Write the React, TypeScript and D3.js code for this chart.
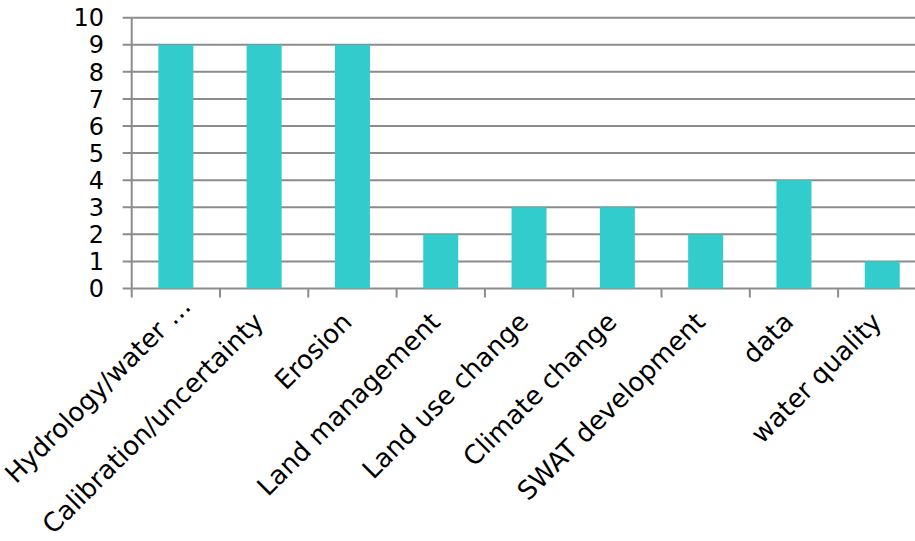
import React from "react";
import * as d3 from "d3";

const categories = [
  "Hydrology/water …",
  "Calibration/uncertainty",
  "Erosion",
  "Land management",
  "Land use change",
  "Climate change",
  "SWAT development",
  "data",
  "water quality",
];
const values = [9, 9, 9, 2, 3, 3, 2, 4, 1];
const yTicks = [0, 1, 2, 3, 4, 5, 6, 7, 8, 9, 10];

const W = 915;
const H = 541;
const left = 131.7;
const band = 88.3;
const y0 = 288.5;
const y10 = 17.7;
const font = "'DejaVu Sans', Verdana, sans-serif";
const grid = "#8c8c8c";

export default function App() {
  const x = d3
    .scaleBand<string>()
    .domain(categories)
    .range([left, left + band * categories.length])
    .paddingInner(0)
    .paddingOuter(0);
  const y = d3.scaleLinear().domain([0, 10]).range([y0, y10]);
  const bw = 35;

  return (
    <svg
      width={W}
      height={H}
      style={{ position: "absolute", left: 0, top: 0, background: "#fff" }}
    >
      {yTicks.map((t) => (
        <g key={t}>
          <line
            x1={left - 9}
            x2={W}
            y1={y(t)}
            y2={y(t)}
            stroke={grid}
            strokeWidth={2}
          />
          <text
            x={104}
            y={y(t)}
            dy="0.36em"
            textAnchor="end"
            fontFamily={font}
            fontSize={24}
            fill="#000"
          >
            {t}
          </text>
        </g>
      ))}
      <line x1={left} x2={left} y1={y10} y2={y0 + 9} stroke={grid} strokeWidth={2} />
      {categories.map((c, i) => (
        <line
          key={"t" + i}
          x1={(x(c) as number) + band}
          x2={(x(c) as number) + band}
          y1={y0}
          y2={y0 + 9}
          stroke={grid}
          strokeWidth={2}
        />
      ))}
      {categories.map((c, i) => {
        const cx = (x(c) as number) + x.bandwidth() / 2;
        return (
          <rect
            key={"b" + i}
            x={cx - bw / 2}
            y={y(values[i])}
            width={bw}
            height={y0 - y(values[i])}
            fill="#33CCCC"
          />
        );
      })}
      {categories.map((c, i) => {
        const cx = (x(c) as number) + x.bandwidth() / 2;
        const ax = cx + 1;
        const ay = y0 + 35;
        const shift = c.endsWith("…") ? 22 : 0;
        return (
          <text
            key={"l" + i}
            x={ax}
            y={ay}
            dx={shift}
            textAnchor="end"
            transform={`rotate(-45 ${ax} ${ay})`}
            fontFamily={font}
            fontSize={26}
            fill="#000"
          >
            {c}
          </text>
        );
      })}
    </svg>
  );
}
